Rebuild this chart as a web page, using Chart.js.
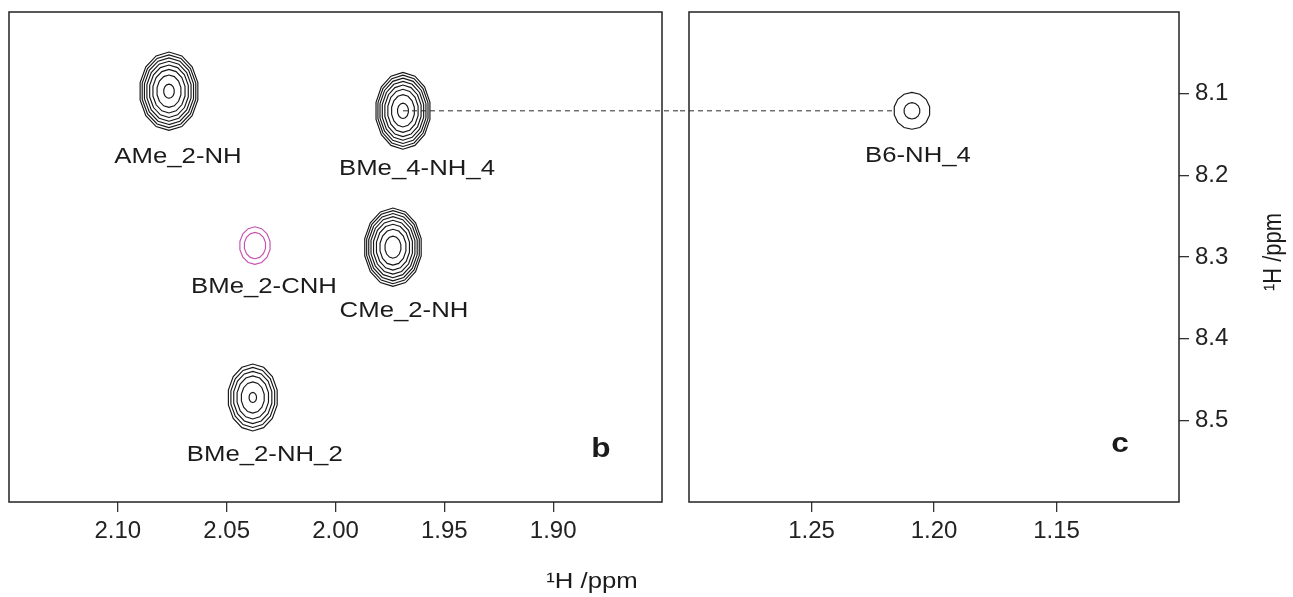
<!DOCTYPE html>
<html>
<head>
<meta charset="utf-8">
<script src="https://cdn.jsdelivr.net/npm/chart.js@4.4.1/dist/chart.umd.min.js"></script>
<style>
  html, body { margin: 0; padding: 0; background: #fff; }
  body { width: 1293px; height: 597px; position: relative; overflow: hidden; }
  .panel { position: absolute; top: 0; height: 597px; }
  #wrapB { left: 0; width: 680px; }
  #wrapC { left: 680px; width: 613px; }
</style>
</head>
<body>
<div class="panel" id="wrapB"><canvas id="panelB"></canvas></div>
<div class="panel" id="wrapC"><canvas id="panelC"></canvas></div>
<script>
// panel b : methyl / NH cross peaks
const namesB  = ["AMe_2-NH", "BMe_4-NH_4", "BMe_2-CNH", "CMe_2-NH", "BMe_2-NH_2"];
const xB      = [2.0765, 1.969, 2.037, 1.9736, 2.038];   // 1H ppm (horizontal)
const yB      = [8.097, 8.121, 8.286, 8.288, 8.472];     // 1H ppm (vertical)
const halfXB  = [0.0136, 0.0127, 0.0071, 0.0133, 0.0115]; // peak half width, ppm
const halfYB  = [0.048, 0.047, 0.023, 0.048, 0.041];
const levelsB = [8, 8, 2, 8, 6];                          // contour levels shown
const innerB  = [0.18, 0.2, 0.7, 0.28, 0.15];             // size of last contour
const signB   = [1, 1, -1, 1, 1];

// panel c
const namesC  = ["B6-NH_4"];
const xC      = [1.209];
const yC      = [8.121];
const halfXC  = [0.0074];
const halfYC  = [0.0226];
const levelsC = [2];
const innerC  = [0.44];
const signC   = [1];

// dashed connection between the two panels
const linkFrom = "BMe_4-NH_4";
const linkTo   = "B6-NH_4";

const ticksXB = [2.10, 2.05, 2.00, 1.95, 1.90];
const ticksXC = [1.25, 1.20, 1.15];
const ticksY  = [8.1, 8.2, 8.3, 8.4, 8.5];

// ---- style ----
const FONT = "'Liberation Sans', Arial, Helvetica, sans-serif";
const INK = '#1b1b1b';
const STRETCH = 1.17;
const labelOffset = {            // px from peak centre to label baseline centre
  "AMe_2-NH":   [9, 72],
  "BMe_4-NH_4": [14, 64],
  "BMe_2-CNH":  [9, 47],
  "CMe_2-NH":   [11, 70],
  "BMe_2-NH_2": [12, 64],
  "B6-NH_4":    [6, 51]
};

function peaks(names, xs, ys, hx, hy, lev, inn, sg) {
  return names.map((n, i) => ({ x: xs[i], y: ys[i], hx: hx[i], hy: hy[i],
    levels: lev[i], inner: inn[i], sign: sg[i], name: n }));
}

function text(ctx, str, x, y, size, weight, align, rot, baseline) {
  ctx.save();
  ctx.translate(x, y);
  if (rot) {
    ctx.rotate(rot);
    ctx.scale(1, STRETCH);
  } else {
    ctx.scale(STRETCH, 1);
  }
  ctx.font = weight + ' ' + size + 'px ' + FONT;
  ctx.textAlign = align;
  ctx.textBaseline = baseline || 'alphabetic';
  ctx.fillStyle = INK;
  ctx.fillText(str, 0, 0);
  ctx.restore();
}

// contour rings drawn around each peak position through the scales
const contours = {
  id: 'contours',
  afterDatasetsDraw(chart, args, opts) {
    const ctx = chart.ctx, ds = chart.data.datasets[0];
    const meta = chart.getDatasetMeta(0);
    const sx = chart.scales.x, sy = chart.scales.y;
    const a = chart.chartArea;
    ctx.save();
    ctx.beginPath();
    ctx.rect(a.left, a.top, a.right - a.left, a.bottom - a.top);
    ctx.clip();
    meta.data.forEach((el, i) => {
      const p = ds.data[i];
      const ax = Math.abs(sx.getPixelForValue(p.x + p.hx) - el.x);
      const ay = Math.abs(sy.getPixelForValue(p.y + p.hy) - el.y);
      ctx.strokeStyle = p.sign > 0 ? '#161616' : '#c452b0';
      ctx.lineWidth = 1.15;
      for (let k = 0; k < p.levels; k++) {
        const f = p.levels > 1 ? Math.sqrt(1 - k / (p.levels - 1) * (1 - p.inner * p.inner)) : 1;
        ctx.beginPath();
        const n = 14;
        for (let j = 0; j <= n; j++) {
          const t = Math.PI / 2 + j / n * Math.PI * 2;
          const px = el.x + Math.cos(t) * ax * f;
          const py = el.y + Math.sin(t) * ay * f;
          if (j === 0) ctx.moveTo(px, py); else ctx.lineTo(px, py);
        }
        ctx.closePath();
        ctx.stroke();
      }
    });
    ctx.restore();

    // peak labels
    ds.data.forEach((p, i) => {
      const el = meta.data[i];
      const off = labelOffset[p.name] || [0, 50];
      text(ctx, p.name, el.x + off[0], el.y + off[1], 22, 'normal', 'center');
    });
  }
};

const link = {
  id: 'link',
  afterDatasetsDraw(chart, args, opts) {
    const ds = chart.data.datasets[0];
    const meta = chart.getDatasetMeta(0);
    const ctx = chart.ctx;
    ds.data.forEach((p, i) => {
      const el = meta.data[i];
      let x0, x1;
      if (p.name === linkFrom) { x0 = el.x; x1 = chart.width; }
      else if (p.name === linkTo) {
        x0 = 0;
        x1 = el.x - Math.abs(chart.scales.x.getPixelForValue(p.x + p.hx) - el.x);
      } else return;
      ctx.save();
      ctx.strokeStyle = '#2a2a2a';
      ctx.lineWidth = 1;
      ctx.setLineDash([5, 4]);
      ctx.beginPath();
      ctx.moveTo(x0, el.y);
      ctx.lineTo(x1, el.y);
      ctx.stroke();
      ctx.restore();
    });
  }
};

const decor = {
  id: 'decor',
  afterDraw(chart, args, opts) {
    const ctx = chart.ctx, a = chart.chartArea;
    ctx.save();
    ctx.strokeStyle = '#222';
    ctx.lineWidth = 1.5;
    ctx.strokeRect(a.left, a.top, a.right - a.left, a.bottom - a.top);
    ctx.restore();
    text(ctx, opts.letter, a.right - opts.letterDx, a.bottom - opts.letterDy, 27, 'bold', 'center');
    if (opts.xTitle) text(ctx, '\u00b9H /ppm', opts.xTitle[0], opts.xTitle[1], 22, 'normal', 'center');
    if (opts.yTitle) text(ctx, '\u00b9H /ppm', opts.yTitle[0], opts.yTitle[1], 22, 'normal', 'center', -Math.PI / 2, 'middle');
  }
};

function xAxis(min, max, ticks) {
  return {
    type: 'linear', min: min, max: max, reverse: true, position: 'bottom',
    afterBuildTicks: s => { s.ticks = ticks.map(v => ({ value: v })); },
    afterFit: s => { s.height = 95; s.paddingLeft = 0; s.paddingRight = 0; },
    border: { display: false },
    grid: { display: true, drawOnChartArea: false, drawTicks: true, tickLength: 10, color: '#333', lineWidth: 1.3 },
    ticks: { color: '#222', padding: 5, maxRotation: 0, font: { family: FONT, size: 24 },
      callback: v => Number(v).toFixed(2) }
  };
}

function yAxis(show) {
  return {
    type: 'linear', min: 8.0, max: 8.6, reverse: true, position: 'right', display: show,
    afterBuildTicks: s => { s.ticks = ticksY.map(v => ({ value: v })); },
    afterFit: s => { if (show) s.width = 114; s.paddingTop = 0; s.paddingBottom = 0; },
    border: { display: false },
    grid: { display: true, drawOnChartArea: false, drawTicks: true, tickLength: 10, color: '#333', lineWidth: 1.3 },
    ticks: { color: '#222', padding: 6, font: { family: FONT, size: 24 },
      callback: v => Number(v).toFixed(1) }
  };
}

function baseOptions(padding) {
  return {
    responsive: true,
    maintainAspectRatio: false,
    animation: false,
    layout: { padding: padding },
    plugins: { legend: { display: false }, tooltip: { enabled: false } }
  };
}

const optsB = baseOptions({ left: 9, right: 18, top: 12, bottom: 0 });
optsB.scales = { x: xAxis(1.85, 2.15, ticksXB), y: yAxis(false) };
optsB.plugins.decor = { letter: 'b', letterDx: 61, letterDy: 45, xTitle: [592, 588] };

new Chart(document.getElementById('panelB'), {
  type: 'scatter',
  data: { datasets: [{ data: peaks(namesB, xB, yB, halfXB, halfYB, levelsB, innerB, signB), pointRadius: 0 }] },
  options: optsB,
  plugins: [contours, link, decor]
});

const optsC = baseOptions({ left: 9, right: 0, top: 12, bottom: 0 });
optsC.scales = { x: xAxis(1.10, 1.30, ticksXC), y: yAxis(true) };
optsC.plugins.decor = { letter: 'c', letterDx: 59, letterDy: 50, yTitle: [594, 252] };

new Chart(document.getElementById('panelC'), {
  type: 'scatter',
  data: { datasets: [{ data: peaks(namesC, xC, yC, halfXC, halfYC, levelsC, innerC, signC), pointRadius: 0 }] },
  options: optsC,
  plugins: [contours, link, decor]
});
</script>
</body>
</html>
